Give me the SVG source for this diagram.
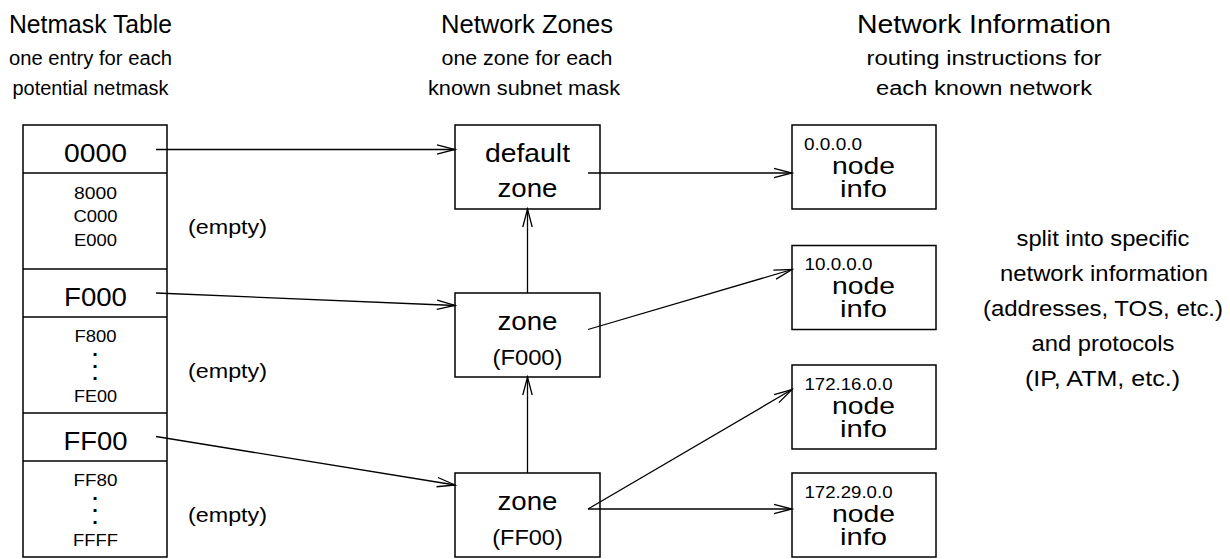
<svg xmlns="http://www.w3.org/2000/svg" width="1230" height="559" viewBox="0 0 1230 559">
<style>
text{font-family:"Liberation Sans",Arial,Helvetica,sans-serif;fill:#000}
.m{text-anchor:middle}
.box{fill:#fff;stroke:#000;stroke-width:1.5}
.div{stroke:#000;stroke-width:1.5}
.conn line{stroke:#000;stroke-width:1.3;fill:none;marker-end:url(#arr)}
.ttl{font-size:25px}
.sub{font-size:20px}
.big{font-size:26px}
.sm{font-size:16.5px}
.emp{font-size:20.5px}
.zn{font-size:25.5px}
.zp{font-size:21.5px}
.nd{font-size:24px}
.ad{font-size:17px}
.rt{font-size:21.5px}
.dot{font-size:20px;font-weight:bold}
</style>
<defs>
<marker id="arr" markerUnits="userSpaceOnUse" markerWidth="20" markerHeight="12" refX="18" refY="5" orient="auto" overflow="visible">
<path d="M0,0.3 L18,5 L0,9.7" fill="none" stroke="#000" stroke-width="1.3"/>
</marker>
</defs>
<rect width="1230" height="559" fill="#fff"/>

<g id="headers">
<text class="ttl m" x="90.5" y="33" textLength="163" lengthAdjust="spacingAndGlyphs">Netmask Table</text>
<text class="sub m" x="90.5" y="65" textLength="163" lengthAdjust="spacingAndGlyphs">one entry for each</text>
<text class="sub m" x="90.5" y="95" textLength="156" lengthAdjust="spacingAndGlyphs">potential netmask</text>
<text class="ttl m" x="527" y="33" textLength="172" lengthAdjust="spacingAndGlyphs">Network Zones</text>
<text class="sub m" x="527" y="65" textLength="171" lengthAdjust="spacingAndGlyphs">one zone for each</text>
<text class="sub m" x="524" y="95" textLength="192" lengthAdjust="spacingAndGlyphs">known subnet mask</text>
<text class="ttl m" x="984" y="33" textLength="254" lengthAdjust="spacingAndGlyphs">Network Information</text>
<text class="sub m" x="984" y="65" textLength="235" lengthAdjust="spacingAndGlyphs">routing instructions for</text>
<text class="sub m" x="984" y="95" textLength="216" lengthAdjust="spacingAndGlyphs">each known network</text>
</g>

<g id="netmask-table">
<rect class="box" x="23" y="125" width="144" height="432"/>
<line class="div" x1="23" y1="173" x2="167" y2="173"/>
<line class="div" x1="23" y1="269" x2="167" y2="269"/>
<line class="div" x1="23" y1="317" x2="167" y2="317"/>
<line class="div" x1="23" y1="413" x2="167" y2="413"/>
<line class="div" x1="23" y1="461" x2="167" y2="461"/>
<text class="big m" x="95.5" y="162" textLength="63" lengthAdjust="spacingAndGlyphs">0000</text>
<text class="sm m" x="95.5" y="199" textLength="43" lengthAdjust="spacingAndGlyphs">8000</text>
<text class="sm m" x="95.5" y="222" textLength="44" lengthAdjust="spacingAndGlyphs">C000</text>
<text class="sm m" x="95.5" y="246" textLength="43" lengthAdjust="spacingAndGlyphs">E000</text>
<text class="big m" x="95.5" y="305.5" textLength="63" lengthAdjust="spacingAndGlyphs">F000</text>
<text class="sm m" x="95.5" y="342" textLength="42" lengthAdjust="spacingAndGlyphs">F800</text>
<text class="dot m" x="95" y="355.5">.</text>
<text class="dot m" x="95" y="367.5">.</text>
<text class="dot m" x="95" y="379.5">.</text>
<text class="sm m" x="95.5" y="402" textLength="43" lengthAdjust="spacingAndGlyphs">FE00</text>
<text class="big m" x="95.5" y="449.5" textLength="64" lengthAdjust="spacingAndGlyphs">FF00</text>
<text class="sm m" x="95.5" y="486" textLength="44" lengthAdjust="spacingAndGlyphs">FF80</text>
<text class="dot m" x="95" y="499.5">.</text>
<text class="dot m" x="95" y="511.5">.</text>
<text class="dot m" x="95" y="523.5">.</text>
<text class="sm m" x="95.5" y="546" textLength="45" lengthAdjust="spacingAndGlyphs">FFFF</text>
</g>

<g id="empty-labels">
<text class="emp" x="188" y="233.5" textLength="79" lengthAdjust="spacingAndGlyphs">(empty)</text>
<text class="emp" x="188" y="377.5" textLength="79" lengthAdjust="spacingAndGlyphs">(empty)</text>
<text class="emp" x="188" y="521.5" textLength="79" lengthAdjust="spacingAndGlyphs">(empty)</text>
</g>

<g id="zone-default">
<rect class="box" x="455" y="125" width="145" height="84"/>
<text class="zn m" x="527.5" y="162" textLength="85" lengthAdjust="spacingAndGlyphs">default</text>
<text class="zn m" x="527.5" y="197" textLength="60" lengthAdjust="spacingAndGlyphs">zone</text>
</g>
<g id="zone-f000">
<rect class="box" x="455" y="293" width="145" height="84"/>
<text class="zn m" x="527.5" y="330" textLength="60" lengthAdjust="spacingAndGlyphs">zone</text>
<text class="zp m" x="527.5" y="365" textLength="70" lengthAdjust="spacingAndGlyphs">(F000)</text>
</g>
<g id="zone-ff00">
<rect class="box" x="455" y="473" width="145" height="84"/>
<text class="zn m" x="527.5" y="510" textLength="60" lengthAdjust="spacingAndGlyphs">zone</text>
<text class="zp m" x="527.5" y="545" textLength="70.5" lengthAdjust="spacingAndGlyphs">(FF00)</text>
</g>

<g id="net-0.0.0.0">
<rect class="box" x="792" y="125" width="144" height="84"/>
<text class="ad" x="804" y="150" textLength="58" lengthAdjust="spacingAndGlyphs">0.0.0.0</text>
<text class="nd m" x="863.5" y="173.5" textLength="63" lengthAdjust="spacingAndGlyphs">node</text>
<text class="nd m" x="863.5" y="197" textLength="47" lengthAdjust="spacingAndGlyphs">info</text>
</g>
<g id="net-10.0.0.0">
<rect class="box" x="792" y="245.5" width="144" height="84"/>
<text class="ad" x="804.5" y="269.5" textLength="68" lengthAdjust="spacingAndGlyphs">10.0.0.0</text>
<text class="nd m" x="863.5" y="293.5" textLength="63" lengthAdjust="spacingAndGlyphs">node</text>
<text class="nd m" x="863.5" y="317" textLength="47" lengthAdjust="spacingAndGlyphs">info</text>
</g>
<g id="net-172.16.0.0">
<rect class="box" x="792" y="365" width="144" height="84"/>
<text class="ad" x="804.5" y="390" textLength="88" lengthAdjust="spacingAndGlyphs">172.16.0.0</text>
<text class="nd m" x="863.5" y="413.5" textLength="63" lengthAdjust="spacingAndGlyphs">node</text>
<text class="nd m" x="863.5" y="437" textLength="47" lengthAdjust="spacingAndGlyphs">info</text>
</g>
<g id="net-172.29.0.0">
<rect class="box" x="792" y="473" width="144" height="84"/>
<text class="ad" x="804.5" y="498" textLength="88" lengthAdjust="spacingAndGlyphs">172.29.0.0</text>
<text class="nd m" x="863.5" y="521.5" textLength="63" lengthAdjust="spacingAndGlyphs">node</text>
<text class="nd m" x="863.5" y="545" textLength="47" lengthAdjust="spacingAndGlyphs">info</text>
</g>

<g id="note">
<text class="rt m" x="1103" y="246" textLength="173" lengthAdjust="spacingAndGlyphs">split into specific</text>
<text class="rt m" x="1104" y="281" textLength="208" lengthAdjust="spacingAndGlyphs">network information</text>
<text class="rt m" x="1103" y="316" textLength="240" lengthAdjust="spacingAndGlyphs">(addresses, TOS, etc.)</text>
<text class="rt m" x="1103" y="350.5" textLength="143" lengthAdjust="spacingAndGlyphs">and protocols</text>
<text class="rt m" x="1102.5" y="385.5" textLength="155" lengthAdjust="spacingAndGlyphs">(IP, ATM, etc.)</text>
</g>

<g id="connectors" class="conn">
<line x1="156" y1="149.5" x2="455" y2="149.5"/>
<line x1="156" y1="293" x2="455" y2="305.5"/>
<line x1="156" y1="436.5" x2="455" y2="485"/>
<line x1="588" y1="173" x2="792" y2="173"/>
<line x1="588" y1="329.5" x2="792" y2="269.5"/>
<line x1="588" y1="509" x2="792" y2="389.5"/>
<line x1="588" y1="509" x2="792" y2="509"/>
<line x1="527.5" y1="293" x2="527.5" y2="209"/>
<line x1="527.5" y1="473" x2="527.5" y2="377"/>
</g>
</svg>
